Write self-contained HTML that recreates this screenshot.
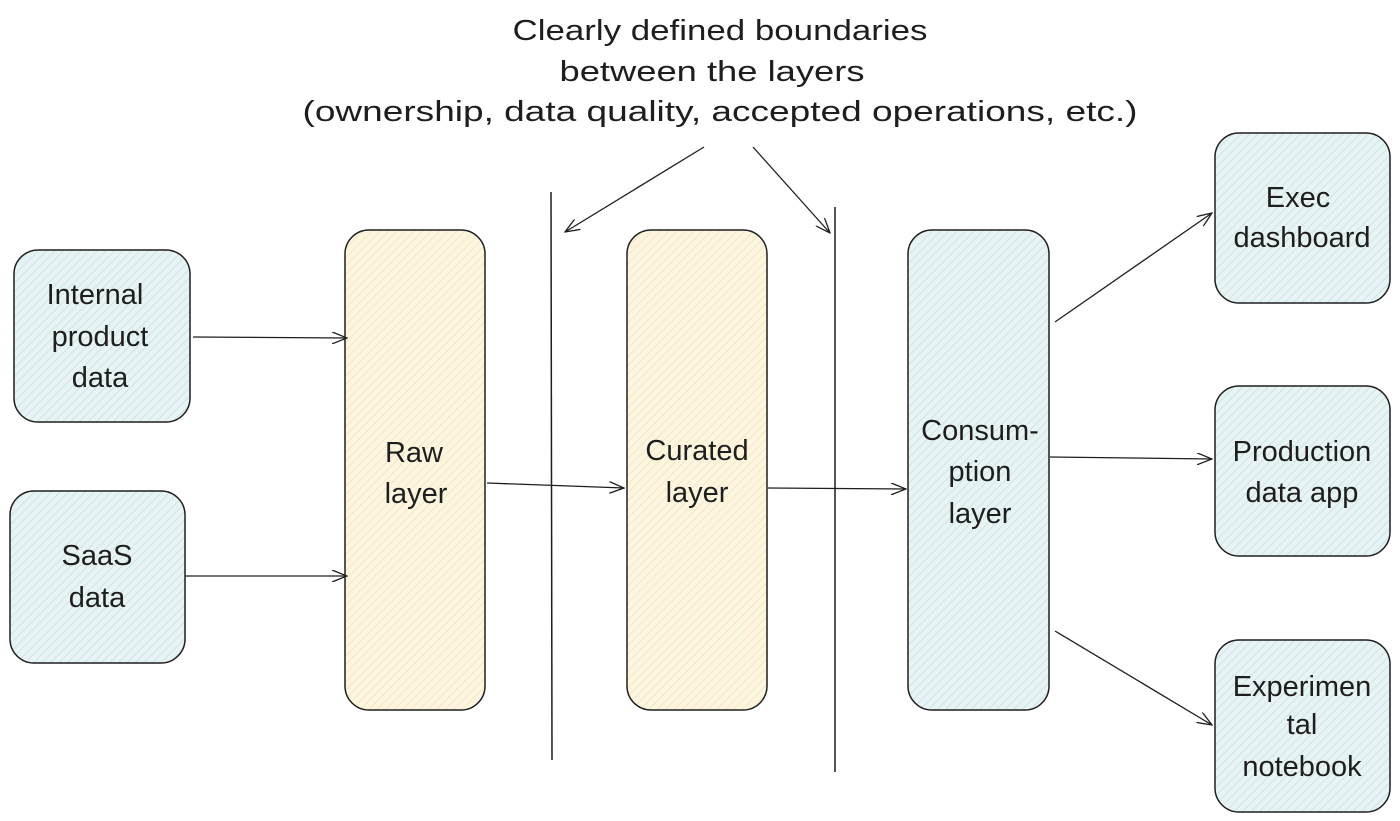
<!DOCTYPE html>
<html><head><meta charset="utf-8"><style>html,body{margin:0;padding:0;background:#fff}svg{display:block}text{font-family:"Liberation Sans",sans-serif;font-size:29px;fill:#1e1e1e;text-anchor:middle}</style></head>
<body>
<svg width="1400" height="821" viewBox="0 0 1400 821" xmlns="http://www.w3.org/2000/svg">
<defs>
<pattern id="hy" width="6" height="6" patternUnits="userSpaceOnUse" patternTransform="rotate(45)"><rect width="6" height="6" fill="#fcf5e0"/><line x1="0" y1="0" x2="0" y2="6" stroke="#efdfae" stroke-width="1.2"/></pattern>
<pattern id="hb" width="6" height="6" patternUnits="userSpaceOnUse" patternTransform="rotate(45)"><rect width="6" height="6" fill="#e8f3f4"/><line x1="0" y1="0" x2="0" y2="6" stroke="#bcdbe0" stroke-width="1.2"/></pattern>
<marker id="a" markerWidth="16" markerHeight="12" refX="15" refY="6" orient="auto" markerUnits="userSpaceOnUse"><path d="M0,0 L15,6 L0,12" fill="none" stroke="#1e1e1e" stroke-width="1.3"/></marker>
</defs>
<g stroke="#1e1e1e" stroke-width="1.5">
<rect x="14" y="250" width="176" height="172" rx="24" fill="url(#hb)"/>
<rect x="10" y="491" width="175" height="172" rx="24" fill="url(#hb)"/>
<rect x="345" y="230" width="140" height="480" rx="24" fill="url(#hy)"/>
<rect x="627" y="230" width="140" height="480" rx="24" fill="url(#hy)"/>
<rect x="908" y="230" width="141" height="480" rx="24" fill="url(#hb)"/>
<rect x="1215" y="133" width="175" height="170" rx="24" fill="url(#hb)"/>
<rect x="1215" y="386" width="175" height="170" rx="24" fill="url(#hb)"/>
<rect x="1215" y="640" width="175" height="172" rx="24" fill="url(#hb)"/>
<line x1="551" y1="192" x2="552" y2="760"/>
<line x1="835" y1="207" x2="835" y2="772"/>
</g>
<g stroke="#1e1e1e" stroke-width="1.3" fill="none" marker-end="url(#a)">
<line x1="193" y1="337" x2="347" y2="338"/>
<line x1="185" y1="576" x2="347" y2="576"/>
<line x1="487" y1="483" x2="624" y2="488"/>
<line x1="768" y1="488" x2="906" y2="489"/>
<line x1="704" y1="147" x2="565" y2="232"/>
<line x1="753" y1="147" x2="830" y2="233"/>
<line x1="1055" y1="322" x2="1212" y2="213"/>
<line x1="1050" y1="457" x2="1212" y2="459"/>
<line x1="1055" y1="631" x2="1212" y2="725"/>
</g>
<text x="720" y="40" textLength="415" lengthAdjust="spacingAndGlyphs">Clearly defined boundaries</text>
<text x="712" y="81" textLength="305" lengthAdjust="spacingAndGlyphs">between the layers</text>
<text x="720" y="121" textLength="835" lengthAdjust="spacingAndGlyphs">(ownership, data quality, accepted operations, etc.)</text>
<text x="95" y="304">Internal</text><text x="100" y="346">product</text><text x="100" y="387">data</text>
<text x="97" y="565">SaaS</text><text x="97" y="607">data</text>
<text x="414" y="462">Raw</text><text x="416" y="503">layer</text>
<text x="697" y="460">Curated</text><text x="697" y="502">layer</text>
<text x="980" y="440">Consum-</text><text x="980" y="481">ption</text><text x="980" y="523">layer</text>
<text x="1298" y="207">Exec</text><text x="1302" y="247">dashboard</text>
<text x="1302" y="461">Production</text><text x="1302" y="502">data app</text>
<text x="1302" y="696">Experimen</text><text x="1302" y="734">tal</text><text x="1302" y="776">notebook</text>
</svg>
</body></html>
